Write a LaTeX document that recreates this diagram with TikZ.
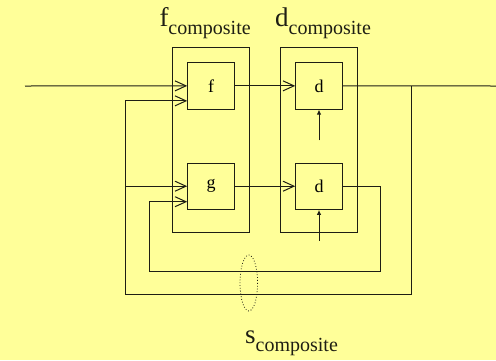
\documentclass[tikz,border=0pt]{standalone}
\usepackage{fontspec}
\setmainfont{Liberation Serif}
\usetikzlibrary{arrows.meta}
\definecolor{bg}{RGB}{255,255,153}
\definecolor{ink}{RGB}{30,30,20}
\tikzset{
  wire/.style={draw=ink, line width=1pt},
  openin/.style={wire, -{Straight Barb[length=11pt,width=10pt,line width=1pt]}},
  clk/.style={wire, -{Latex[length=5pt,width=4.5pt]}},
  blk/.style={draw=ink, line width=1pt, minimum width=46.6pt, minimum height=46.3pt, inner sep=0pt, font=\fontsize{18}{20}\selectfont},
  cbox/.style={draw=ink, line width=1pt, minimum width=77.3pt, minimum height=185pt, inner sep=0pt},
  lbl/.style={anchor=base west, inner sep=0pt, text=ink},
}
\newcommand{\bigsub}[3]{{\fontsize{27}{30}\selectfont #1}\raisebox{-#3}{\fontsize{20}{24}\selectfont #2}}
\begin{document}
\begin{tikzpicture}[x=1pt,y=-1pt]
\fill[bg] (0,0) rectangle (496,360);
\useasboundingbox (0,0) rectangle (496,360);
% composite boxes
\node[cbox] (fc) at (210.65,139.8) {};
\node[cbox] (dc) at (319,139.8) {};
% inner blocks
\node[blk] (f) at (211,85.85) {f};
\node[blk] (g) at (211,186.2) {g};
\node[blk] (d1) at (319,85.85) {d};
\node[blk] (d2) at (319,186.2) {d};
% labels
\node[lbl] (lf) at (159.3,26.7) {\bigsub{f}{composite}{7.7pt}};
\node[lbl] (ld) at (275,26.7) {\bigsub{d}{composite}{7.7pt}};
\node[lbl] (ls) at (245,343.3) {\bigsub{s}{composite}{8.4pt}};
% coordinates
\coordinate (in) at (25,86);
\coordinate (out) at (496,86);
\coordinate (br) at (411.7,86);
\coordinate (ob) at (125.7,294);
\coordinate (ib) at (380.3,271);
\coordinate (il) at (149,201.7);
\coordinate (gb) at (125.7,186.2);
\coordinate (c1) at (319,140.3);
\coordinate (c2) at (319,240.7);
% wires
\draw[openin] (in) -- (f.west);
\draw[openin] (f.east) -- (d1.west);
\draw[openin] (g.east) -- (d2.west);
\draw[wire] (d1.east) -- (out);
\draw[openin] (br) |- (ob) |- ([yshift=-15pt]f.west);
\draw[openin] (gb) -- (g.west);
\draw[openin] (d2.east) -| (ib) -| (il) -- ([yshift=-15.5pt]g.west);
\draw[clk] (c1) -- (d1.south);
\draw[clk] (c2) -- (d2.south);
% dotted ellipse
\draw[ink, dotted, line width=0.8pt] (248.8,283) ellipse [x radius=8.8, y radius=28];
\end{tikzpicture}
\end{document}
